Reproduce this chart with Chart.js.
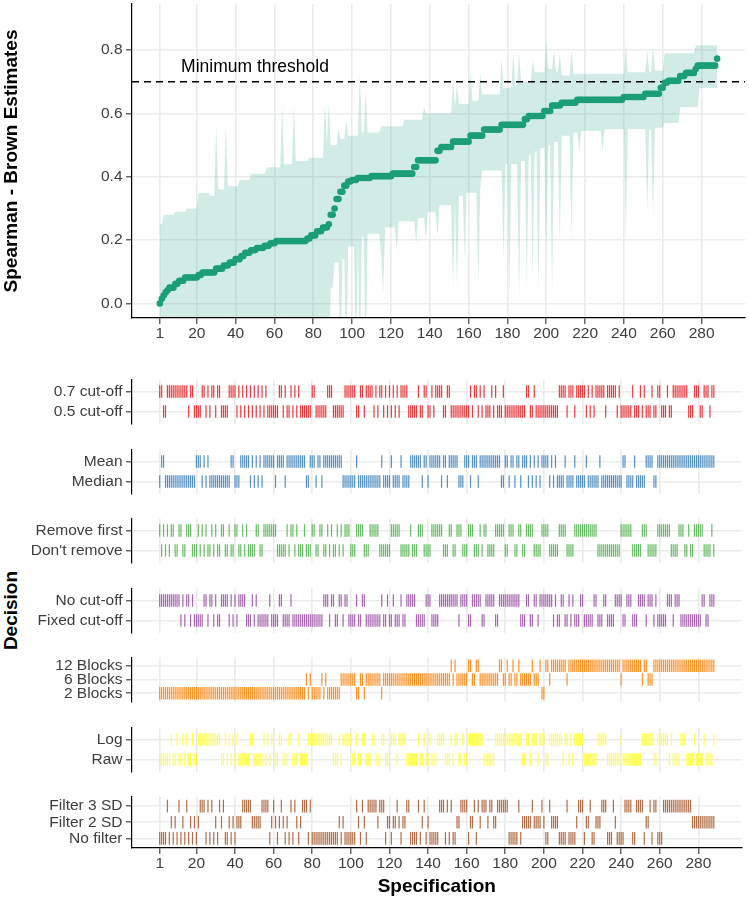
<!DOCTYPE html>
<html>
<head>
<meta charset="utf-8">
<script src="https://cdn.jsdelivr.net/npm/chart.js@4.4.1/dist/chart.umd.min.js"></script>
<style>
  html, body { margin: 0; padding: 0; background: #fff; }
  #page { position: relative; width: 749px; height: 902px; overflow: hidden; background: #fff; }
  #page canvas { position: absolute; left: 0; }
  #decisionTitle {
    position: absolute; left: -88.6px; top: 598.5px; width: 200px; height: 23px;
    line-height: 23px; text-align: center; transform: rotate(-90deg);
    font: bold 19px 'Liberation Sans', Arial, sans-serif; color: #000;
  }
</style>
</head>
<body>
<div id="page">
  <canvas id="topChart" width="749" height="345" style="top:0"></canvas>
  <div id="decisionTitle">Decision</div>
</div>
<script>
// ---- data ----
const specCount = 288;
const xTickValues = [1, 20, 40, 60, 80, 100, 120, 140, 160, 180, 200, 220, 240, 260, 280];
const yTickValues = [0, 0.2, 0.4, 0.6, 0.8];
const threshold = 0.7;
const thresholdLabel = 'Minimum threshold';
const thresholdLabelAt = [50, 0.746];

// [value, number of consecutive specifications]
const estimateRuns = [
  [0.000, 1], [0.015, 1], [0.025, 1], [0.035, 1], [0.042, 1], [0.050, 3], [0.062, 2], [0.072, 3],
  [0.082, 7], [0.090, 2], [0.098, 7], [0.110, 4], [0.120, 3], [0.129, 3], [0.140, 3], [0.150, 2],
  [0.160, 3], [0.168, 3], [0.175, 4], [0.182, 3], [0.190, 3], [0.197, 16], [0.205, 2], [0.215, 3],
  [0.228, 3], [0.240, 3], [0.250, 1], [0.280, 2], [0.300, 1], [0.330, 2], [0.353, 2], [0.372, 2],
  [0.385, 2], [0.390, 3], [0.396, 7], [0.402, 11], [0.410, 11], [0.431, 2], [0.452, 10], [0.482, 2],
  [0.494, 6], [0.511, 9], [0.530, 7], [0.549, 9], [0.564, 12], [0.582, 2], [0.592, 8], [0.608, 4],
  [0.625, 5], [0.634, 8], [0.643, 24], [0.652, 11], [0.662, 8], [0.681, 2], [0.697, 2], [0.703, 6],
  [0.718, 3], [0.728, 5], [0.740, 1], [0.751, 10], [0.773, 1]
];
const upperRuns = [
  [0.25, 2], [0.28, 6], [0.29, 6], [0.30, 6], [0.35, 6], [0.34, 3], [0.57, 1], [0.36, 4], [0.56, 1],
  [0.37, 6], [0.39, 6], [0.41, 8], [0.43, 8], [0.63, 1], [0.44, 5], [0.63, 1], [0.45, 7], [0.46, 8],
  [0.64, 1], [0.50, 1], [0.63, 1], [0.50, 4], [0.55, 1], [0.52, 3], [0.58, 1], [0.53, 6], [0.73, 1],
  [0.54, 2], [0.67, 1], [0.54, 7], [0.56, 12], [0.58, 10], [0.62, 1], [0.60, 14], [0.70, 1], [0.62, 1],
  [0.69, 1], [0.63, 6], [0.73, 1], [0.64, 4], [0.73, 1], [0.66, 10], [0.77, 1], [0.68, 5], [0.79, 1],
  [0.69, 2], [0.79, 1], [0.70, 6], [0.77, 1], [0.73, 6], [0.83, 1], [0.74, 3], [0.80, 1], [0.73, 2],
  [0.79, 1], [0.72, 5], [0.80, 1], [0.725, 27], [0.815, 1], [0.73, 10], [0.80, 1], [0.73, 2],
  [0.815, 1], [0.735, 5], [0.79, 16], [0.815, 12]
];
const lowerRuns = [
  [-0.2, 88], [0.05, 2], [0.13, 3], [-0.2, 1], [0.14, 2], [-0.2, 1], [0.18, 4], [-0.2, 1], [0.2, 1],
  [-0.2, 1], [0.21, 2], [-0.2, 1], [0.22, 7], [0.15, 1], [0.03, 1], [0.24, 6], [0.17, 1], [0.26, 9],
  [0.19, 1], [0.27, 4], [0.2, 1], [0.29, 5], [0.21, 1], [0.31, 7], [0.05, 1], [0.32, 1], [0.05, 1],
  [0.34, 3], [0.14, 1], [0.35, 6], [0.06, 1], [0.36, 1], [0.42, 11], [0.14, 1], [0.44, 2], [0.02, 1],
  [0.44, 4], [0.01, 1], [0.45, 3], [0.05, 1], [0.47, 2], [0.08, 1], [0.48, 2], [0.03, 1], [0.49, 3],
  [0.155, 1], [0.5, 2], [0.03, 1], [0.51, 3], [0.19, 1], [0.53, 5], [0.2, 1], [0.54, 3], [0.48, 1],
  [0.545, 11], [0.48, 1], [0.55, 11], [0.2, 1], [0.55, 10], [0.29, 1], [0.55, 2], [0.27, 1],
  [0.555, 5], [0.57, 8], [0.62, 10], [0.68, 10]
];

// specifications taking each decision level (null = every remaining specification)
const cut07Specs = "1-2,5-15,17-18,23-24,26,28-29,31-32,37-40,42,44,46,48,50,52,54,56,63-64,66,69,71,73,80-81,88-90,97-102,105-106,108-111,113,115-116,118,120,122,124,126-129,135,138-139,142,144-147,150-151,162,164-165,167,169,173,175,179,191-192,195,208-211,213-215,217-221,223,225,227-231,233-237,239,246,250,252,256,259-260,264,267-274,278-280,283-285,287-288";
const meanSpecs = "2-3,20-22,24,26,38-39,43-47,49,51,53,55-60,62-65,67-76,79-81,83-84,86-95,103,116,121,126,131-136,138-139,141-146,148-149,151-155,159-161,163-165,167-177,180-181,183-184,186-187,189-191,193,195,197,199-202,204,206,211,216,222,229,241-242,247,253-256,259-288";
const removeFirstSpecs = "1,3,5,7-8,11-12,15-17,21,23,25,28,30,33-34,37,40-41,44,46,51-52,55-61,67,69-70,72,76,80-81,84-85,88,90,93,95,97-99,103-106,110-114,121-125,131,135-137,142-147,151-152,155-157,161-163,167,169-170,175-179,182-184,187-188,191-194,199-202,208-211,216-227,240-245,251-253,259-265,270-272,275,278-282,287";
const noCutoffSpecs = "1-11,13,15-16,18,24-25,27-28,30,33-36,38,40,42-45,49,51,58,63-64,69,86-88,90-91,94-95,97-98,103,106-107,116,119,122,126,129-133,139-141,146-155,157-160,163-167,170-174,177-187,191-192,195-196,198-204,206,209-210,213,215,219-220,226-227,231-232,237-240,243-245,249-252,254-256,258,264-266,268-270,282-283,286-288";
const blocks12Specs = "152,154,161-162,165-166,177-178,181,184,187,194,198,201-202,204-211,213-239,241-250,252-253,257-288";
const blocks2Specs = "1-76,78,80-84,86,88-94,103-104,107,116,199-200";
const logSpecs = "7,10,13,15,18,21-32,35,37,39,41,48-49,55,57,59,63-64,68-69,73,78-90,94,96-100,103,106-107,111-112,116-117,121-123,125-128,135,138,141,145-148,152,154-155,158,161-168,175-188,191-192,194-196,198-200,203-209,211-212,214,216-220,228-232,240,251-256,259-264,266,271-273,278,283,288";
const filter3Specs = "5,11,15,22-24,26,28,32,34,44-48,54-57,60,64,69,71,75-77,79,103,106,109-113,115-117,124,129-130,135,138,146-148,150,152,157-160,164,166,168-170,172-173,176-181,187,194,199,203,212,218-220,224,230-232,236,242-245,248-251,255,257-258,262-276";
const filter2Specs = "7,9,13,17,19,21,30,33,37,39,41-43,49-53,59,61,63,65,67,72,74,94,96,104,107,114,119-120,122-123,125,127-128,137,140,155-156,162-163,167,171,174-175,189-193,195-198,200,204-207,217,222-223,227-229,237,253-254,277-288";

const decisionLabels = [
  ['0.7 cut-off', '0.5 cut-off'],
  ['Mean', 'Median'],
  ['Remove first', "Don't remove"],
  ['No cut-off', 'Fixed cut-off'],
  ['12 Blocks', '6 Blocks', '2 Blocks'],
  ['Log', 'Raw'],
  ['Filter 3 SD', 'Filter 2 SD', 'No filter']
];
const decisionSpecs = [
  [cut07Specs, null],
  [meanSpecs, null],
  [removeFirstSpecs, null],
  [noCutoffSpecs, null],
  [blocks12Specs, null, blocks2Specs],
  [logSpecs, null],
  [filter3Specs, filter2Specs, null]
];
const decisionColors = ['#E41A1C', '#377EB8', '#4DAF4A', '#984EA3', '#FF7F00', '#FFFF33', '#A65628'];

// ---- look ----
const fontFamily = "'Liberation Sans', Arial, sans-serif";
const tickFont = { family: fontFamily, size: 15.5 };
const titleFont = { family: fontFamily, size: 19, weight: 'bold' };
const tickTextColor = '#3d3d3d';
const gridColor = '#ebebeb';
const xMin = -13.35, xMax = 302.35;
const facetTops = [372, 442, 511, 581, 650, 720, 789];
const facetHeight = 59;

Chart.defaults.font.family = fontFamily;

function expandRuns(runs) {
  const out = [];
  runs.forEach(([v, n]) => { for (let i = 0; i < n; i++) out.push(v); });
  if (out.length !== specCount) console.warn('run length', out.length);
  return out;
}

function parseSpecs(text) {
  const set = new Set();
  text.split(',').forEach(part => {
    const [a, b] = part.split('-').map(Number);
    for (let s = a; s <= (b || a); s++) set.add(s);
  });
  return set;
}

function rgba(hex, a) {
  const n = parseInt(hex.slice(1), 16);
  return `rgba(${n >> 16},${(n >> 8) & 255},${n & 255},${a})`;
}

const specs = Array.from({ length: specCount }, (_, i) => i + 1);
const estimates = expandRuns(estimateRuns);
const upper = expandRuns(upperRuns);
const lower = expandRuns(lowerRuns);

function xScale(showAxis, axisHeight, title) {
  return {
    type: 'linear',
    min: xMin,
    max: xMax,
    afterBuildTicks: s => { s.ticks = xTickValues.map(v => ({ value: v })); },
    afterFit: s => { s.height = axisHeight; s.paddingLeft = 0; s.paddingRight = 0; },
    grid: { color: gridColor, lineWidth: 1.6, drawTicks: showAxis, tickLength: 6, tickColor: '#333', tickWidth: 1.1 },
    border: { display: showAxis, color: '#000', width: 1.2, z: 1 },
    ticks: {
      display: showAxis, font: tickFont, color: tickTextColor, padding: 0.5,
      maxRotation: 0, autoSkip: false, callback: v => String(v)
    },
    title: title
      ? { display: true, text: title, font: titleFont, color: '#000', padding: { top: 0, bottom: 3.6 } }
      : { display: false }
  };
}

function yAxisBase(title) {
  return {
    afterFit: s => { s.width = 132; s.paddingTop = 0; s.paddingBottom = 0; },
    grid: { color: gridColor, lineWidth: 1.6, tickLength: 6, tickColor: '#333', tickWidth: 1.1 },
    border: { color: '#000', width: 1.2, z: 1 },
    title: title
      ? { display: true, text: title, font: titleFont, color: '#000', padding: { top: 0, bottom: 0 } }
      : { display: false }
  };
}

// ---- top panel: estimates and interval ----
const thresholdText = {
  id: 'thresholdText',
  afterDatasetsDraw(chart) {
    const { ctx, scales } = chart;
    ctx.save();
    ctx.font = `17.5px ${fontFamily}`;
    ctx.fillStyle = '#000';
    ctx.textAlign = 'center';
    ctx.textBaseline = 'middle';
    ctx.fillText(thresholdLabel, scales.x.getPixelForValue(thresholdLabelAt[0]),
      scales.y.getPixelForValue(thresholdLabelAt[1]));
    ctx.restore();
  }
};

new Chart(document.getElementById('topChart'), {
  type: 'line',
  data: {
    datasets: [
      {
        label: 'Estimate',
        data: specs.map((s, i) => ({ x: s, y: estimates[i] })),
        showLine: false,
        pointRadius: 3.3,
        pointBorderWidth: 0,
        pointBackgroundColor: '#1B9E77',
        pointBorderColor: '#1B9E77'
      },
      {
        label: 'Threshold',
        data: [{ x: xMin, y: threshold }, { x: xMax, y: threshold }],
        borderColor: '#000',
        borderWidth: 1.5,
        borderDash: [7, 5],
        pointRadius: 0
      },
      {
        label: 'Upper',
        data: specs.map((s, i) => ({ x: s, y: upper[i] })),
        borderColor: 'transparent',
        borderWidth: 0,
        pointRadius: 0,
        tension: 0,
        fill: '+1',
        backgroundColor: 'rgba(27,158,119,0.2)'
      },
      {
        label: 'Lower',
        data: specs.map((s, i) => ({ x: s, y: lower[i] })),
        borderColor: 'transparent',
        borderWidth: 0,
        pointRadius: 0,
        tension: 0,
        fill: false
      }
    ]
  },
  options: {
    responsive: false,
    animation: false,
    events: [],
    layout: { padding: { left: 0, right: 2, top: 0, bottom: 0 } },
    plugins: { legend: { display: false }, tooltip: { enabled: false } },
    scales: {
      x: xScale(true, 27, null),
      y: Object.assign(yAxisBase('Spearman - Brown Estimates'), {
        type: 'linear',
        min: -0.0458,
        max: 0.9456,
        afterBuildTicks: s => { s.ticks = yTickValues.map(v => ({ value: v })); },
        ticks: { font: tickFont, color: tickTextColor, padding: 3.5, callback: v => Number(v).toFixed(1) }
      })
    }
  },
  plugins: [thresholdText]
});

// ---- bottom panel: one facet per decision ----
function levelOfSpec(lists, spec) {
  for (let i = 0; i < lists.length; i++) if (lists[i] && lists[i].has(spec)) return i;
  return lists.indexOf(null);
}

decisionLabels.forEach((labels, index) => {
  const last = index === decisionLabels.length - 1;
  const n = labels.length;
  const lists = decisionSpecs[index].map(t => (t ? parseSpecs(t) : null));
  const color = rgba(decisionColors[index], 0.85);
  const axisHeight = last ? 113 - facetHeight : 0;

  const canvas = document.createElement('canvas');
  canvas.width = 749;
  canvas.height = facetHeight + axisHeight;
  canvas.style.top = facetTops[index] + 'px';
  document.getElementById('page').appendChild(canvas);

  new Chart(canvas, {
    type: 'scatter',
    data: {
      datasets: labels.map((lab, li) => ({
        label: lab,
        data: specs.filter(s => levelOfSpec(lists, s) === li).map(s => ({ x: s, y: n - li })),
        pointStyle: 'line',
        pointRotation: 90,
        pointRadius: 6.3,
        pointBorderWidth: 1.2,
        pointBorderColor: color,
        borderColor: color,
        backgroundColor: color
      }))
    },
    options: {
      responsive: false,
      animation: false,
      events: [],
      layout: { padding: { left: 0, right: 2, top: 0, bottom: 0 } },
      plugins: { legend: { display: false }, tooltip: { enabled: false } },
      scales: {
        x: xScale(last, axisHeight, last ? 'Specification' : null),
        y: Object.assign(yAxisBase(null), {
          type: 'linear',
          min: 0.4,
          max: n + 0.6,
          afterBuildTicks: s => { s.ticks = labels.map((_, li) => ({ value: n - li })); },
          ticks: {
            font: tickFont, color: tickTextColor, padding: 3.5, autoSkip: false,
            callback: v => labels[n - v]
          }
        })
      }
    }
  });
});
</script>
</body>
</html>
